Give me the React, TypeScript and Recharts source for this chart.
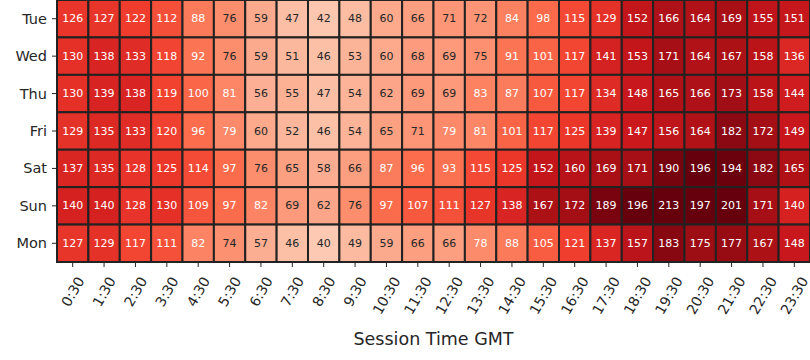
import { ScatterChart, Scatter, XAxis, YAxis } from "recharts";

const days = ["Tue", "Wed", "Thu", "Fri", "Sat", "Sun", "Mon"];
const hours = [
  "0:30", "1:30", "2:30", "3:30", "4:30", "5:30", "6:30", "7:30", "8:30", "9:30", "10:30", "11:30",
  "12:30", "13:30", "14:30", "15:30", "16:30", "17:30", "18:30", "19:30", "20:30", "21:30", "22:30", "23:30",
];

const tue = [126, 127, 122, 112, 88, 76, 59, 47, 42, 48, 60, 66, 71, 72, 84, 98, 115, 129, 152, 166, 164, 169, 155, 151];
const wed = [130, 138, 133, 118, 92, 76, 59, 51, 46, 53, 60, 68, 69, 75, 91, 101, 117, 141, 153, 171, 164, 167, 158, 136];
const thu = [130, 139, 138, 119, 100, 81, 56, 55, 47, 54, 62, 69, 69, 83, 87, 107, 117, 134, 148, 165, 166, 173, 158, 144];
const fri = [129, 135, 133, 120, 96, 79, 60, 52, 46, 54, 65, 71, 79, 81, 101, 117, 125, 139, 147, 156, 164, 182, 172, 149];
const sat = [137, 135, 128, 125, 114, 97, 76, 65, 58, 66, 87, 96, 93, 115, 125, 152, 160, 169, 171, 190, 196, 194, 182, 165];
const sun = [140, 140, 128, 130, 109, 97, 82, 69, 62, 76, 97, 107, 111, 127, 138, 167, 172, 189, 196, 213, 197, 201, 171, 140];
const mon = [127, 129, 117, 111, 82, 74, 57, 46, 40, 49, 59, 66, 66, 78, 88, 105, 121, 137, 157, 183, 175, 177, 167, 148];

const rows = [tue, wed, thu, fri, sat, sun, mon];

// matplotlib "Reds" anchors; colour range (top end clips)
const REDS = ["#fff5f0", "#fee0d2", "#fcbba1", "#fc9272", "#fb6a4a", "#ef3b2c", "#cb181d", "#a50f15", "#67000d"];
const VMIN = 0;
const VMAX = 196;

const W = 810;
const H = 360;
const Y_AXIS_W = 57;
const X_AXIS_H = 98;
const CELL_W = (W - Y_AXIS_W) / hours.length;
const CELL_H = (H - X_AXIS_H) / days.length;
const FONT = "DejaVu Sans, sans-serif";
const XTICK_FS = 14;
const YTICK_FS = 14.5;

function hex(c: string) {
  return [1, 3, 5].map((i) => parseInt(c.slice(i, i + 2), 16));
}

function redsRgb(v: number) {
  const t = Math.min(1, Math.max(0, (v - VMIN) / (VMAX - VMIN))) * (REDS.length - 1);
  const i = Math.min(REDS.length - 2, Math.floor(t));
  const f = t - i;
  const a = hex(REDS[i]);
  const b = hex(REDS[i + 1]);
  return a.map((x, k) => Math.round(x + (b[k] - x) * f));
}

// same rule seaborn uses to pick the annotation colour
function luminance(rgb: number[]) {
  const lin = rgb.map((c) => {
    const s = c / 255;
    return s <= 0.03928 ? s / 12.92 : Math.pow((s + 0.055) / 1.055, 2.4);
  });
  return 0.2126 * lin[0] + 0.7152 * lin[1] + 0.0722 * lin[2];
}

const cells = rows.flatMap((row, r) => row.map((v, c) => ({ x: c + 0.5, y: r + 0.5, v })));

function HeatCell(props: any) {
  const { cx, cy, payload } = props;
  const v = payload.v;
  const rgb = redsRgb(v);
  return (
    <g>
      <rect
        x={cx - CELL_W / 2}
        y={cy - CELL_H / 2}
        width={CELL_W}
        height={CELL_H}
        fill={`rgb(${rgb.join(",")})`}
        stroke="#222"
        strokeWidth={2}
      />
      <text
        x={cx}
        y={cy}
        textAnchor="middle"
        dominantBaseline="central"
        fontSize={11}
        fontFamily={FONT}
        fill={luminance(rgb) > 0.408 ? "#262626" : "#ffffff"}
      >
        {v}
      </text>
    </g>
  );
}

function HourTick(props: any) {
  const { x, y, payload } = props;
  const label = hours[Math.round(payload.value - 0.5)];
  const digits = label.length - 1;
  const len = XTICK_FS * (digits * 0.636 + 0.337);
  const cy = y + 9 + len * 0.433;
  return (
    <text
      x={x}
      y={cy}
      transform={`rotate(-60 ${x} ${cy})`}
      textAnchor="middle"
      dominantBaseline="central"
      fontSize={XTICK_FS}
      fontFamily={FONT}
      fill="#262626"
    >
      {label}
    </text>
  );
}

function DayTick(props: any) {
  const { x, y, payload } = props;
  const label = days[Math.round(payload.value - 0.5)];
  return (
    <text x={x} y={y} textAnchor="end" dominantBaseline="central" fontSize={YTICK_FS} fontFamily={FONT} fill="#262626">
      {label}
    </text>
  );
}

export default function App() {
  return (
    <div>
      <style>{"body{margin:0;background:#fff}"}</style>
      <ScatterChart width={W} height={H} margin={{ top: 0, right: 0, bottom: 0, left: 0 }}>
        <XAxis
          type="number"
          dataKey="x"
          domain={[0, hours.length]}
          ticks={hours.map((_, i) => i + 0.5)}
          interval={0}
          height={X_AXIS_H}
          axisLine={false}
          tickLine={{ stroke: "#262626" }}
          tickSize={5}
          tickMargin={2}
          tick={<HourTick />}
          label={{ value: "Session Time GMT", position: "insideBottom", offset: 15, fontSize: 17.5, fontFamily: FONT, fill: "#262626" }}
        />
        <YAxis
          type="number"
          dataKey="y"
          domain={[0, days.length]}
          ticks={days.map((_, i) => i + 0.5)}
          interval={0}
          reversed
          width={Y_AXIS_W}
          axisLine={false}
          tickLine={{ stroke: "#262626" }}
          tickSize={5}
          tickMargin={5}
          tick={<DayTick />}
        />
        <Scatter data={cells} shape={<HeatCell />} isAnimationActive={false} />
      </ScatterChart>
    </div>
  );
}
